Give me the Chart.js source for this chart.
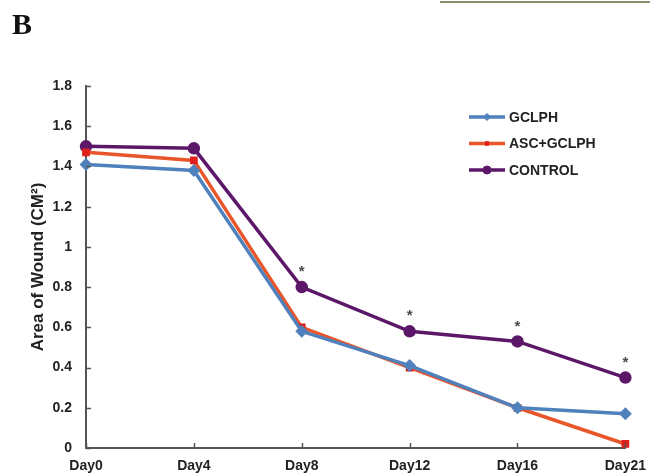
<!DOCTYPE html>
<html>
<head>
<meta charset="utf-8">
<script src="https://cdn.jsdelivr.net/npm/chart.js@4.4.1/dist/chart.umd.min.js"></script>
<style>
  body { margin: 0; background: #fff; }
  #wrap { position: relative; width: 656px; height: 476px; }
  #panel { position: absolute; left: 12px; top: 7px; line-height: 30px; font: bold 30px "Liberation Serif", "DejaVu Serif", serif; color: #111; }
  #topbox { position: absolute; left: 440px; top: -2px; width: 210px; height: 3px; border-bottom: 2px solid #8c8c70; }
</style>
</head>
<body>
<div id="wrap">
  <canvas id="wound" width="656" height="476"></canvas>
  <div id="panel">B</div>
  <div id="topbox"></div>
</div>
<script>
// values
var days = ['Day0', 'Day4', 'Day8', 'Day12', 'Day16', 'Day21'];
var gclph = [1.41, 1.38, 0.58, 0.41, 0.20, 0.17];
var ascGclph = [1.47, 1.43, 0.60, 0.40, 0.20, 0.02];
var control = [1.50, 1.49, 0.80, 0.58, 0.53, 0.35];
var sigMarks = [2, 3, 4, 5]; // asterisks over CONTROL

var fontMain = '"Liberation Sans", Arial, sans-serif';

// inward tick marks
var innerTicks = {
    id: 'innerTicks',
    afterDraw: function(chart) {
        var ctx = chart.ctx, area = chart.chartArea;
        var y = chart.scales.y, x = chart.scales.x;
        ctx.save();
        ctx.strokeStyle = '#555';
        ctx.lineWidth = 1.5;
        y.ticks.forEach(function(t) {
            var py = Math.round(y.getPixelForValue(t.value)) + 0.5;
            ctx.beginPath();
            ctx.moveTo(area.left, py);
            ctx.lineTo(area.left + 5, py);
            ctx.stroke();
        });
        days.forEach(function(d, i) {
            var px = Math.round(x.getPixelForValue(i)) + 0.5;
            ctx.beginPath();
            ctx.moveTo(px, area.bottom);
            ctx.lineTo(px, area.bottom - 5);
            ctx.stroke();
        });
        ctx.restore();
    }
};

// stars for significant days
var stars = {
    id: 'stars',
    afterDatasetsDraw: function(chart) {
        var ctx = chart.ctx;
        var meta = chart.getDatasetMeta(2);
        ctx.save();
        ctx.fillStyle = '#4a4a4a';
        ctx.font = 'bold 15px ' + fontMain;
        ctx.textAlign = 'center';
        ctx.textBaseline = 'middle';
        sigMarks.forEach(function(i) {
            var p = meta.data[i];
            ctx.fillText('*', p.x, p.y - 15);
        });
        ctx.restore();
    }
};

// legend drawn inside the plot, top right
var boxLegend = {
    id: 'boxLegend',
    afterDraw: function(chart) {
        var ctx = chart.ctx;
        var x0 = 469, x1 = 505, y0 = 117, gap = 26.5;
        ctx.save();
        chart.data.datasets.forEach(function(ds, i) {
            var yy = y0 + i * gap;
            ctx.strokeStyle = ds.borderColor;
            ctx.lineWidth = 3.5;
            ctx.beginPath();
            ctx.moveTo(x0, yy);
            ctx.lineTo(x1, yy);
            ctx.stroke();
            ctx.fillStyle = ds.pointBackgroundColor;
            ctx.strokeStyle = ds.pointBorderColor;
            ctx.lineWidth = 1;
            Chart.helpers.drawPoint(ctx, {pointStyle: ds.pointStyle, radius: ds.pointRadius - 0.5, rotation: 0, borderWidth: 1}, (x0 + x1) / 2, yy);
            ctx.fillStyle = '#222';
            ctx.font = 'bold 14px ' + fontMain;
            ctx.textAlign = 'left';
            ctx.textBaseline = 'middle';
            ctx.fillText(ds.label, x1 + 4, yy + 1);
        });
        ctx.restore();
    }
};

var chartWound = new Chart(document.getElementById('wound'), {
    type: 'line',
    data: {
        labels: days,
        datasets: [
            {
                label: 'GCLPH',
                data: gclph,
                borderColor: '#4f81bd',
                backgroundColor: '#4f81bd',
                pointBackgroundColor: '#4f81bd',
                pointBorderColor: '#4f81bd',
                pointStyle: 'rectRot',
                pointRadius: 4,
                borderWidth: 3.5,
                tension: 0
            },
            {
                label: 'ASC+GCLPH',
                data: ascGclph,
                borderColor: '#e8562a',
                backgroundColor: '#e8562a',
                pointBackgroundColor: '#e0201c',
                pointBorderColor: '#e0201c',
                pointStyle: 'rect',
                pointRadius: 3,
                borderWidth: 3.5,
                tension: 0
            },
            {
                label: 'CONTROL',
                data: control,
                borderColor: '#5c1769',
                backgroundColor: '#5c1769',
                pointBackgroundColor: '#5c1769',
                pointBorderColor: '#5c1769',
                pointStyle: 'circle',
                pointRadius: 4.5,
                borderWidth: 3.5,
                tension: 0
            }
        ]
    },
    options: {
        responsive: false,
        animation: false,
        clip: false,
        layout: { padding: { left: 0, top: 86, right: 24, bottom: 0 } },
        plugins: {
            legend: { display: false },
            tooltip: { enabled: false }
        },
        scales: {
            x: {
                offset: false,
                grid: { display: false, drawTicks: false },
                border: { color: '#555', width: 2 },
                ticks: {
                    color: '#222',
                    padding: 10,
                    maxRotation: 0,
                    font: { family: fontMain, size: 14, weight: 'bold' }
                },
                afterFit: function(scale) { scale.height = 28; }
            },
            y: {
                min: 0,
                max: 1.8,
                grid: { display: false, drawTicks: false },
                border: { color: '#555', width: 2 },
                ticks: {
                    stepSize: 0.2,
                    color: '#222',
                    padding: 14,
                    font: { family: fontMain, size: 14, weight: 'bold' },
                    callback: function(value) {
                        return String(+value.toFixed(1));
                    }
                },
                title: {
                    display: true,
                    text: 'Area of Wound (CM²)',
                    color: '#222',
                    padding: { top: 28, bottom: 0 },
                    font: { family: fontMain, size: 17, weight: 'bold' }
                },
                afterFit: function(scale) { scale.width = 86; }
            }
        }
    },
    plugins: [innerTicks, stars, boxLegend]
});
</script>
</body>
</html>
